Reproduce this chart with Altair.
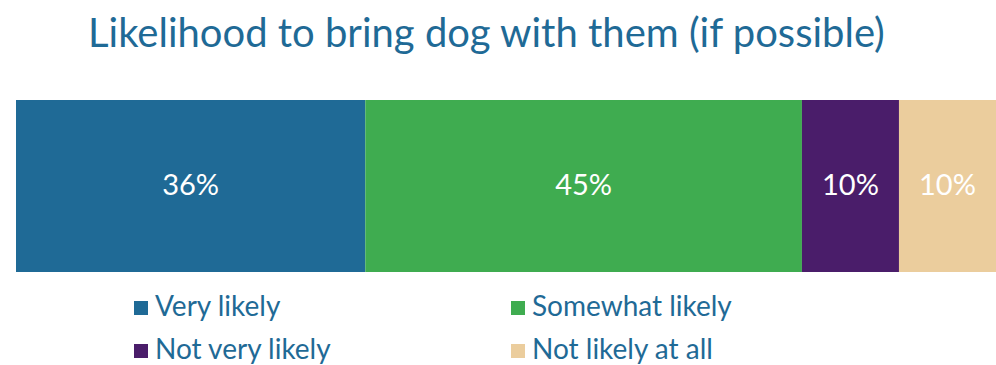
import altair as alt
import pandas as pd

categories = ["Very likely", "Somewhat likely", "Not very likely", "Not likely at all"]
values = [36, 45, 10, 10]
labels = ["36%", "45%", "10%", "10%"]
colors = ["#1f6a96", "#3fac50", "#4a1d6a", "#ebcd9d"]

df = pd.DataFrame({
    "cat": categories,
    "val": values,
    "label": labels,
    "ord": list(range(len(categories))),
    "row": ["all"] * len(categories),
})

FONT = "Lato"
TEXT_BLUE = "#1f6a96"
xscale = alt.Scale(domain=[0, sum(values)], nice=False, zero=True)

bars = alt.Chart(df).mark_bar(size=172).encode(
    x=alt.X("val:Q", stack="zero", axis=None, scale=xscale),
    y=alt.Y("row:N", axis=None),
    color=alt.Color("cat:N",
                    scale=alt.Scale(domain=categories, range=colors),
                    sort=categories,
                    legend=alt.Legend(
                        title=None, orient="none", columns=2,
                        direction="horizontal",
                        legendX=111, legendY=194,
                        symbolType="square", symbolSize=196,
                        symbolStrokeWidth=0, symbolOpacity=1,
                        labelFont=FONT, labelFontSize=28,
                        labelColor=TEXT_BLUE, labelOffset=0,
                        columnPadding=172, rowPadding=15,
                        labelLimit=400,
                    )),
    order=alt.Order("ord:Q"),
)

text = alt.Chart(df).transform_window(
    cum="sum(val)", sort=[alt.SortField("ord")], frame=[None, 0]
).transform_calculate(
    mid="datum.cum - datum.val / 2"
).mark_text(
    font=FONT, fontSize=29, color="white", baseline="middle", align="center"
).encode(
    x=alt.X("mid:Q", axis=None, scale=xscale),
    y=alt.Y("row:N", axis=None),
    text="label:N",
)

chart = alt.layer(bars, text).properties(
    width=980, height=172,
    padding={"left": 16, "top": 15, "right": 0, "bottom": 0},
    title=alt.TitleParams(
        "Likelihood to bring dog with them (if possible)",
        font=FONT, fontSize=40, fontWeight="normal", color=TEXT_BLUE,
        anchor="start", dx=72, offset=45,
    ),
).configure_view(stroke=None).configure_scale(bandPaddingInner=0, bandPaddingOuter=0)

chart.save("out.html", embed_options={"renderer": "svg", "actions": False})
